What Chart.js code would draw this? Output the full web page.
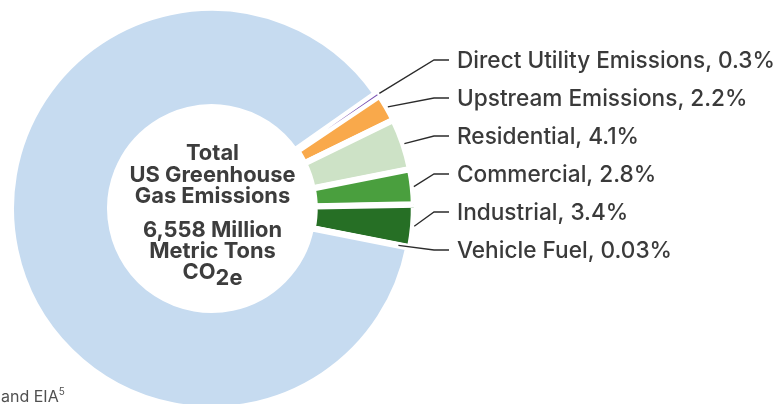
<!DOCTYPE html>
<html>
<head>
<meta charset="utf-8">
<script src="https://cdn.jsdelivr.net/npm/chart.js@4"></script>
<style>
  html, body { margin: 0; padding: 0; background: #fff; overflow: hidden; }
  #wrap { position: relative; width: 780px; height: 404px; }
  #note {
      position: absolute; left: 1px; top: 385px;
      font: 16px Inter, "DejaVu Sans", sans-serif; color: #505050;
  }
  #note sup { font-size: 10px; vertical-align: 7px; }
</style>
</head>
<body>
<div id="wrap">
  <canvas id="chart" width="780" height="404"></canvas>
  <div id="note">and EIA<sup>5</sup></div>
</div>
<script>
/* ─── GHG share donut ─────────────────────────────────────────── */

/* Order starts at Upstream so the tiny Direct Utility slice is drawn last (on top) */
const categories = ['Upstream Emissions', 'Residential', 'Commercial', 'Industrial',
                    'Vehicle Fuel', 'All Other Emissions', 'Direct Utility Emissions'];
const shares     = [2.2, 4.1, 2.8, 3.4, 0.03, 87.17, 0.3];
const colors     = ['#f9a94b', '#cde2c6', '#4a9f3e', '#266f25', '#5b5b5b', '#c6dbf0', '#7a52b3'];

/* right-hand labels, top to bottom (indices into categories) */
const labelOrder = [6, 0, 1, 2, 3, 4];

const centerTitle = ['Total', 'US Greenhouse', 'Gas Emissions'];
const centerValue = ['6,558 Million', 'Metric Tons'];

const TEXT_COLOR = '#3a3a3a';
const FONT       = 'Inter, "DejaVu Sans", sans-serif';

/* ── labels, leader lines and centre text ───────────────────── */
const annotate = {
    id: 'annotate',
    afterDraw(chart) {
        const ctx  = chart.ctx;
        const arcs = chart.getDatasetMeta(0).data;
        const cx   = arcs[0].x;
        const cy   = arcs[0].y;

        /* side labels: fit font so the longest line matches the original width */
        ctx.save();
        ctx.font = '500 18px ' + FONT;
        const longest = `${categories[6]}, ${shares[6]}%`;
        const size = 18 * 318 / ctx.measureText(longest).width;
        ctx.font = '500 ' + size.toFixed(2) + 'px ' + FONT;
        ctx.textBaseline = 'middle';
        ctx.fillStyle = TEXT_COLOR;
        ctx.strokeStyle = '#2b2b2b';
        ctx.lineWidth = 1.3;

        labelOrder.forEach((idx, row) => {
            const arc  = arcs[idx];
            const mid  = (arc.startAngle + arc.endAngle) / 2;
            const r    = arc.outerRadius + (shares[idx] < 0.1 ? -10 : 3);
            const sx   = cx + Math.cos(mid) * r;
            const sy   = cy + Math.sin(mid) * r;
            const ly   = 60 + row * 38;

            ctx.beginPath();
            ctx.moveTo(sx, sy);
            ctx.lineTo(434, ly);
            ctx.lineTo(449, ly);
            ctx.stroke();

            ctx.fillText(`${categories[idx]}, ${shares[idx]}%`, 457, ly + 1);
        });

        /* centre block */
        ctx.textAlign = 'center';
        ctx.textBaseline = 'alphabetic';
        ctx.font = 'bold 19px ' + FONT;
        const bsize = 19 * 166 / ctx.measureText(centerTitle[1]).width;
        ctx.font = 'bold ' + bsize.toFixed(2) + 'px ' + FONT;
        ctx.fillStyle = '#3d3d3d';
        const x0 = cx + 1;
        centerTitle.forEach((t, i) => ctx.fillText(t, x0, 160 + i * 21.5));
        centerValue.forEach((t, i) => ctx.fillText(t, x0, 236.5 + i * 21.5));

        /* CO2e with lowered "2e" */
        const wCO = ctx.measureText('CO').width;
        const w2e = ctx.measureText('2e').width;
        const start = x0 - (wCO + w2e) / 2;
        ctx.textAlign = 'left';
        ctx.fillText('CO', start, 279);
        ctx.fillText('2e', start + wCO, 285);
        ctx.restore();
    }
};

new Chart(document.getElementById('chart'), {
    type: 'doughnut',
    data: {
        labels: categories,
        datasets: [{
            data: shares,
            backgroundColor: colors,
            borderColor: '#ffffff',
            borderWidth: [6, 6, 6, 6, 6, 6, 2.5],
            borderJoinStyle: 'miter',
            offset: [4, 4, 4, 4, 4, 0, 4],
            clip: false,
        }],
    },
    options: {
        responsive: false,
        animation: false,
        events: [],
        rotation: 56.1,
        radius: 200.5,
        cutout: '50.6%',
        layout: { padding: { left: 0, top: 13, right: 357, bottom: 0 } },
        plugins: {
            legend:  { display: false },
            tooltip: { enabled: false },
        },
    },
    plugins: [annotate],
});
</script>
</body>
</html>
